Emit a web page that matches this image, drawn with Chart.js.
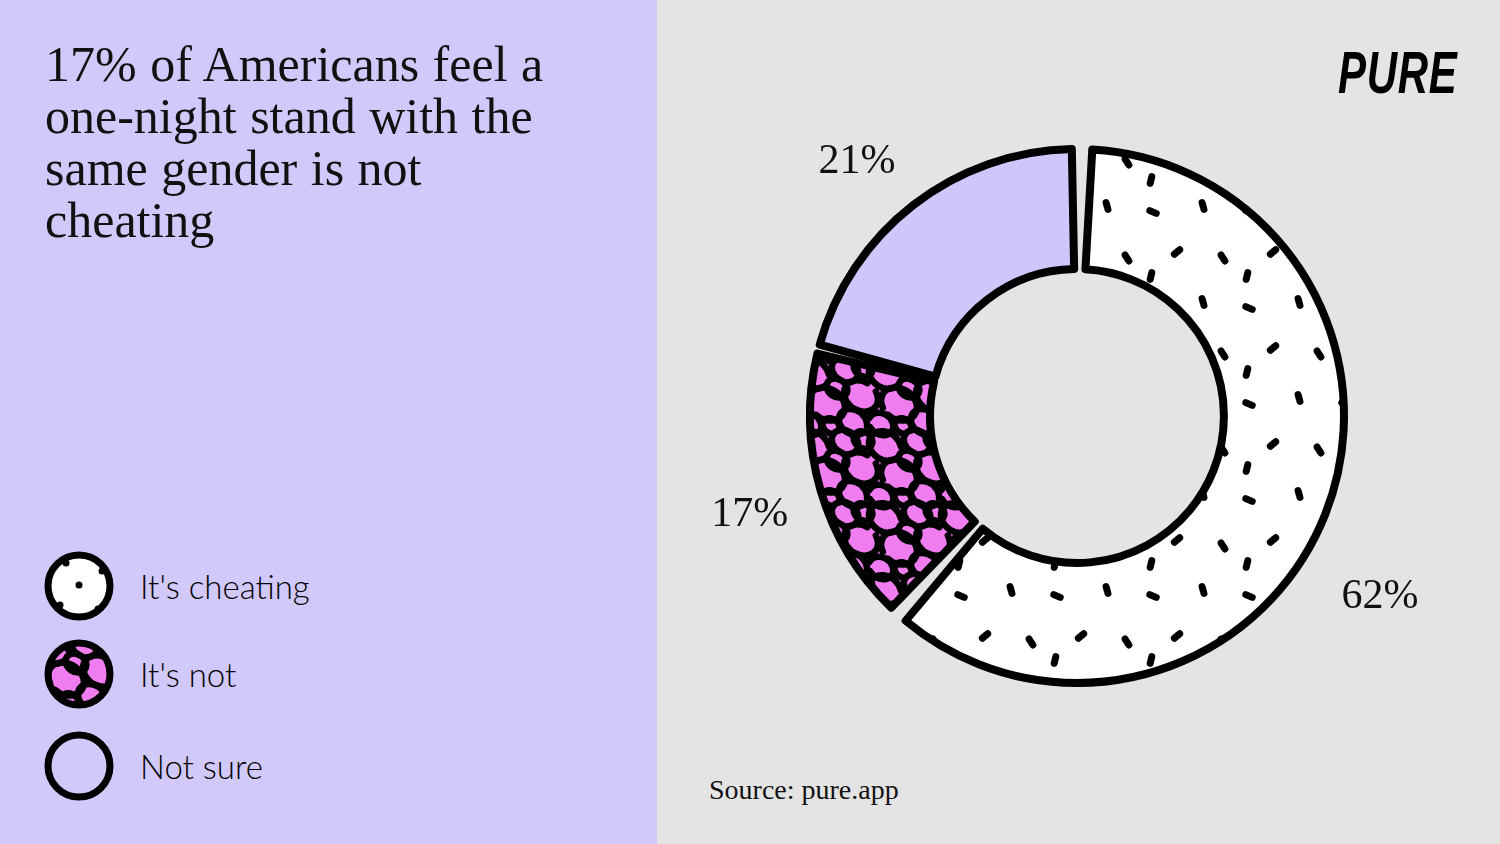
<!DOCTYPE html>
<html><head><meta charset="utf-8">
<script src="https://cdn.jsdelivr.net/npm/chart.js@4.4.1/dist/chart.umd.min.js"></script>
<style>
html,body{margin:0;padding:0;width:1500px;height:844px;overflow:hidden;background:#E4E4E4;}
#left{position:absolute;left:0;top:0;width:657px;height:844px;background:#D2C9FB;}
#right{position:absolute;left:657px;top:0;width:843px;height:844px;background:#E4E4E4;}
#title{position:absolute;left:45px;top:38px;font-family:"Liberation Serif",serif;font-size:50px;line-height:52px;color:#111;white-space:nowrap;word-spacing:1px;}
.row{position:absolute;left:40px;height:80px;display:flex;align-items:center;}
.row canvas{width:78px;height:78px;}
.row span{margin-left:22px;font-family:Lato,sans-serif;font-weight:300;font-size:33px;color:#000;}
#source{position:absolute;left:709px;top:773px;font-family:"Liberation Serif",serif;font-size:28px;line-height:34px;color:#111;}
#logo{position:absolute;left:1338px;top:38px;font-family:"Liberation Sans",sans-serif;font-weight:bold;font-style:italic;font-size:60px;line-height:70px;color:#000;transform:scaleX(0.7);transform-origin:left top;letter-spacing:1px;}
#c{position:absolute;left:657px;top:0;}
</style></head>
<body>
<div id="left"></div><div id="right"></div>
<div id="title">17% of Americans feel a<br>one-night stand with the<br>same gender is not<br>cheating</div>
<div id="legend"></div>
<div id="source">Source: pure.app</div>
<div id="logo">PURE</div>
<canvas id="c" width="843" height="844"></canvas>
<script>
const categories = ["It's cheating", "It's not", "Not sure"];
const shares = [62, 17, 21];
const shareLabels = ["62%", "17%", "21%"];

function dotPattern(ctx){
  const S=96;
  const c=document.createElement('canvas'); c.width=S; c.height=S;
  const x=c.getContext('2d'); x.fillStyle='#fff'; x.fillRect(0,0,S,S);
  x.strokeStyle='#000'; x.lineWidth=7; x.lineCap='round';
  const d=[[16,20,0.4],[66,14,1.3],[40,60,-0.7],[86,66,1.0],[14,84,1.8]];
  d.forEach(([px,py,a])=>{x.beginPath();x.moveTo(px-Math.cos(a)*3.5,py-Math.sin(a)*3.5);x.lineTo(px+Math.cos(a)*3.5,py+Math.sin(a)*3.5);x.stroke();});
  return ctx.createPattern(c,'repeat');
}
function scribblePattern(ctx){
  const S=72;
  const c=document.createElement('canvas'); c.width=S; c.height=S;
  const x=c.getContext('2d'); x.fillStyle='#F07DF0'; x.fillRect(0,0,S,S);
  x.strokeStyle='#000'; x.lineWidth=6.5; x.lineCap='round';
  const circ=[[12,14,17,0.2,5.6],[44,10,14,1.5,7.2],[60,36,18,-1.0,4.6],[26,44,19,2.2,8.0],[52,62,15,0.4,5.9],[8,64,13,3.0,8.4],[36,28,11,0.0,6.28],[62,8,10,2.0,7.5],[30,66,9,1.0,6.0]];
  circ.forEach(([cx,cy,r,a0,a1])=>{
    for(let dx=-S;dx<=S;dx+=S)for(let dy=-S;dy<=S;dy+=S){x.beginPath();x.ellipse(cx+dx,cy+dy,r,r*0.8,0.6,a0,a1);x.stroke();}
  });
  return ctx.createPattern(c,'repeat');
}

const canvas=document.getElementById('c');
const ctx=canvas.getContext('2d');
const fills=[dotPattern(ctx), scribblePattern(ctx), '#D0C6FC'];

// legend (HTML, built from the same arrays)
const legendTops=[546,634,726];
const legend=document.getElementById('legend');
categories.forEach((name,i)=>{
  const row=document.createElement('div'); row.className='row'; row.style.top=legendTops[i]+'px';
  const ic=document.createElement('canvas'); ic.width=78; ic.height=78;
  const g=ic.getContext('2d');
  g.beginPath(); g.arc(39,39,31,0,Math.PI*2);
  g.fillStyle = i===0 ? '#fff' : (i===1 ? scribblePattern(g) : '#D2C9FB');
  g.fill();
  if(i===0){g.fillStyle='#000';[[39,38],[26,16],[62,24],[20,58],[58,62]].forEach(([px,py])=>{g.beginPath();g.arc(px,py,3.5,0,Math.PI*2);g.fill();});}
  g.beginPath(); g.arc(39,39,31,0,Math.PI*2);
  g.lineWidth=7; g.strokeStyle='#000'; g.stroke();
  const sp=document.createElement('span'); sp.textContent=name;
  row.appendChild(ic); row.appendChild(sp); legend.appendChild(row);
});

const labelPlugin={
  id:'pctLabels',
  afterDatasetsDraw(chart,args,opts){
    const c=chart.ctx; const meta=chart.getDatasetMeta(0);
    c.save(); c.font='42px "Liberation Serif", serif'; c.fillStyle='#111';
    c.textAlign='center'; c.textBaseline='middle';
    meta.data.forEach((arc,i)=>{
      const mid=(arc.startAngle+arc.endAngle)/2 + opts.nudge[i]*Math.PI/180;
      const R=opts.dist[i];
      c.fillText(shareLabels[i], arc.x+Math.cos(mid)*R, arc.y+Math.sin(mid)*R);
    });
    c.restore();
  }
};

new Chart(ctx,{
  type:'doughnut',
  data:{labels:categories,datasets:[{data:shares,backgroundColor:fills,borderColor:'#000',borderWidth:8,borderJoinStyle:'round',spacing:12,hoverOffset:0}]},
  options:{
    responsive:false, animation:false, events:[],
    radius:261, cutout:'54%',
    layout:{padding:{bottom:12,right:3}},
    plugins:{legend:{display:false},tooltip:{enabled:false},
      pctLabels:{nudge:[9.3,-0.7,-3.1],dist:[353,342,336]}}
  },
  plugins:[labelPlugin]
});
</script>
</body></html>
